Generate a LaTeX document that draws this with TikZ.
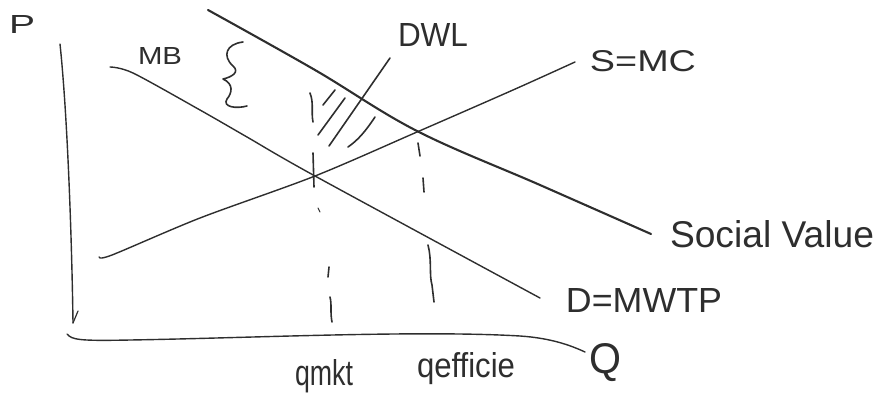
\documentclass[tikz,border=0pt]{standalone}
\usepackage{graphicx}
\usepackage{fontspec}
\setmainfont{Liberation Sans}
\definecolor{ink}{HTML}{2E2E2E}
\tikzset{
  curve/.style={draw=ink, line width=1.4pt, line cap=round, line join=round},
  thick curve/.style={draw=ink, line width=2.1pt, line cap=round, line join=round},
  tick/.style={draw=ink, line width=1.6pt, line cap=round},
  lab/.style={inner sep=0pt, text=ink},
}
\newcommand{\hlab}[3]{\resizebox{#1pt}{#2pt}{#3}}
\begin{document}
\begin{tikzpicture}[x=1pt,y=-1pt]
\useasboundingbox (0,0) rectangle (877,394);

% axes
\coordinate (ytop) at (60,44);
\coordinate (ybot) at (73,323);
\coordinate (xl) at (67,334);
\coordinate (xr) at (585,352);
\draw[curve] (ytop) .. controls (68,120) and (72,250) .. (ybot);
\draw[curve, line width=1.2pt] (78,311) -- (ybot);
\draw[curve] (xl) .. controls (72,340) and (80,341) .. (130,340)
  .. controls (250,338) and (420,330) .. (520,336)
  .. controls (550,338) and (570,345) .. (xr);

% demand / MB
\coordinate (d0) at (110,67);
\coordinate (d1) at (540,298);
\draw[curve] plot[smooth, tension=0.5] coordinates {(d0) (133,73) (200,110) (247,137) (315,176) (d1)};

% supply
\coordinate (s0) at (99,257);
\coordinate (s1) at (575,62);
\draw[curve] plot[smooth, tension=0.5] coordinates {(s0) (112,255) (200,218) (315,176) (417,132) (513,90) (s1)};

% social value
\coordinate (v0) at (208,10);
\coordinate (v1) at (651,234);
\draw[thick curve] plot[smooth, tension=0.6] coordinates {(v0) (315,70) (417,131) (540,185) (v1)};

% brace
\draw[curve, line width=1.6pt] (243,42) .. controls (226,44) and (222,56) .. (233,66)
  .. controls (240,72) and (232,77) .. (223,79)
  .. controls (234,84) and (232,93) .. (227,99)
  .. controls (222,107) and (236,109) .. (247,106);

% DWL hatch and leader
\draw[tick] (390,58) -- (329,146);
\draw[tick] (335,90) -- (323,105);
\draw[tick] (345,98) -- (318,135);
\draw[tick] (375,117) .. controls (365,132) and (358,140) .. (348,147);
\draw[tick] (310,93) .. controls (314,103) and (311,112) .. (313,122);

% dashed q market
\draw[tick] (313,153) -- (314,187);
\draw[tick, line width=1.1pt] (318,208) -- (320,212);
\draw[tick] (329,267) -- (328,277);
\draw[tick] (330,297) .. controls (332,305) and (330,312) .. (332,322);

% dashed q efficient
\draw[tick] (418,143) -- (420,156);
\draw[tick] (423,178) -- (424,192);
\draw[tick] (428,245) .. controls (432,260) and (429,275) .. (432,285) -- (434,302);

% labels
\node[lab] (P) at (22,24) {\hlab{26}{18}{P}};
\node[lab] (MB) at (160,56) {\hlab{44}{17}{MB}};
\node[lab] (DWL) at (433,35) {\hlab{70}{23}{DWL}};
\node[lab] (SMC) at (643,61) {\hlab{106}{21}{S=MC}};
\node[lab] (SV) at (772,234) {\hlab{204}{27}{Social Value}};
\node[lab] (DMWTP) at (644,300) {\hlab{156}{24}{D=MWTP}};
\node[lab] (qmkt) at (324,376) {\hlab{58}{26}{qmkt}};
\node[lab] (qeff) at (466,369) {\hlab{98}{25}{qefficie}};
\node[lab] (Q) at (605,363) {\hlab{32}{30}{Q}};
\end{tikzpicture}
\end{document}
